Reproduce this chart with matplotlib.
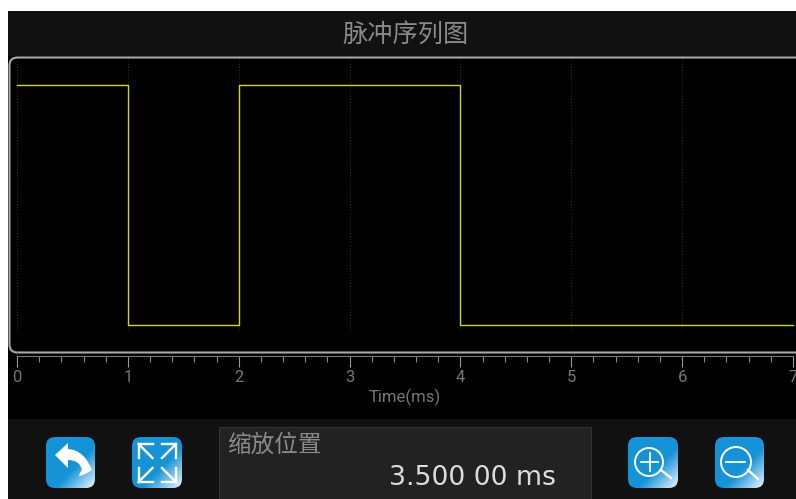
import numpy as np
import matplotlib
matplotlib.use('Agg')
import matplotlib.pyplot as plt
from matplotlib.patches import Rectangle, FancyBboxPatch, Circle, PathPatch
from matplotlib.path import Path

plt.rcParams['font.family'] = ['Noto Sans CJK SC', 'DejaVu Sans']

times = [0, 1, 2, 4, 7]
levels = [1, 0, 1, 0, 0]
major_ticks = [0, 1, 2, 3, 4, 5, 6, 7]
minor_ticks = [0.2, 0.4, 0.6, 0.8, 1.2, 1.4, 1.6, 1.8, 2.2, 2.4, 2.6, 2.8, 3.2, 3.4, 3.6, 3.8,
               4.2, 4.4, 4.6, 4.8, 5.2, 5.4, 5.6, 5.8, 6.2, 6.4, 6.6, 6.8]
title = '脉冲序列图'
xlabel = 'Time(ms)'
zoom_label = '缩放位置'
zoom_value = '3.500 00 ms'

W, H = 796, 499
fig = plt.figure(figsize=(W / 100, H / 100), dpi=100, facecolor='white')

# background layer in pixel coords
bg = fig.add_axes([0, 0, 1, 1])
bg.set_axis_off()
bg.add_patch(Rectangle((8, 11), W - 8, 45, fc='#111111', ec='none'))
bg.add_patch(Rectangle((8, 56), W - 8, 363, fc='black', ec='none'))
bg.add_patch(Rectangle((8, 419), W - 8, 80, fc='#111111', ec='none'))
bg.add_patch(Rectangle((219, 426.5), 371.5, 73, fc='#222222', ec='#333333', lw=0.8))


def icon(x0, y0, w, h):
    # blue rounded button, goes white towards the lower right corner
    yy, xx = np.mgrid[0:1:60j, 0:1:60j]
    t = np.clip(((xx + yy) / 2 - 0.6) / 0.4, 0, 1)
    blue = np.array([0.09, 0.58, 0.84])
    img = blue + (np.array([0.92, 0.96, 1.0]) - blue) * t[..., None]
    im = bg.imshow(img, extent=(x0, x0 + w, y0 + h, y0), aspect='auto', zorder=2)
    box = FancyBboxPatch((x0 + 7, y0 + 7), w - 14, h - 14, boxstyle='round,pad=7,rounding_size=9',
                         fc='none', ec='none', transform=bg.transData)
    bg.add_patch(box)
    im.set_clip_path(box)


icons = [(46, 437, 49, 51), (132, 437, 50, 51), (628, 437, 50, 51), (715, 437, 49, 51)]
for ic in icons:
    icon(*ic)

# back arrow
arrow = Path([(55, 455), (68, 443), (68, 449), (84, 450), (92, 470), (73, 482),
              (82, 470), (80, 460), (68, 460), (68, 468), (55, 455)],
             [Path.MOVETO, Path.LINETO, Path.LINETO, Path.CURVE3, Path.CURVE3, Path.CURVE3,
              Path.CURVE3, Path.CURVE3, Path.CURVE3, Path.LINETO, Path.CLOSEPOLY])
bg.add_patch(PathPatch(arrow, fc='white', ec='none', zorder=3))

# fit arrows
for cx, cy, dx, dy in [(138.5, 444, 1, 1), (176, 444, -1, 1), (138.5, 482, 1, -1), (176, 482, -1, -1)]:
    bg.plot([cx + dx * 14, cx, cx], [cy, cy, cy + dy * 14], color='white', lw=1.7, zorder=3,
            solid_joinstyle='miter')
    bg.plot([cx, cx + dx * 14], [cy, cy + dy * 14], color='white', lw=1.7, zorder=3)

# magnifiers
bg.add_patch(Circle((649, 462), 14, fc='none', ec='white', lw=1.4, zorder=3))
bg.plot([661, 671], [470, 478], color='white', lw=1.7, zorder=3)
bg.plot([641, 658], [462, 462], color='white', lw=1.3, zorder=3)
bg.plot([649.5, 649.5], [453, 471], color='white', lw=1.3, zorder=3)
bg.add_patch(Circle((736, 462), 15, fc='none', ec='white', lw=1.4, zorder=3))
bg.plot([748, 758], [470, 479], color='white', lw=1.7, zorder=3)
bg.plot([726, 745], [462, 462], color='white', lw=1.3, zorder=3)

bg.set_xlim(0, W)
bg.set_ylim(H, 0)

# chart itself
left, right, top, bottom = 17, 793, 58, 356
ax = fig.add_axes([left / W, 1 - bottom / H, (right - left) / W, (bottom - top) / H])
ax.patch.set_alpha(0)
ax.plot(times, levels, drawstyle='steps-post', color='#d8d800', lw=1.0, clip_on=False, zorder=3)
ax.set_xlim(0, 7)
ax.set_ylim(-0.1268, 1.112)
ax.set_yticks([])
ax.set_xticks(major_ticks)
ax.set_xticks(minor_ticks, minor=True)
ax.tick_params(axis='x', which='major', length=8, width=0.8, color='#999999', labelcolor='#777777',
               labelsize=12, pad=2)
ax.tick_params(axis='x', which='minor', length=4, width=0.8, color='#888888')
for name in ('top', 'left', 'right'):
    ax.spines[name].set_visible(False)
ax.spines['bottom'].set_color('#777777')
ax.spines['bottom'].set_linewidth(0.8)
ax.vlines(major_ticks, -0.017, 1.112, color='#333333', lw=0.7, linestyles=(0, (1, 2)), zorder=1)
for lab in ax.get_xticklabels():
    lab.set_family('Roboto')

# rounded frame, runs off the right edge
over = fig.add_axes([0, 0, 1, 1])
over.set_axis_off()
over.patch.set_alpha(0)
over.add_patch(FancyBboxPatch((17.5, 65.5), 790, 279, boxstyle='round,pad=8,rounding_size=8',
                              fc='none', ec='#aaaaaa', lw=1.5))
over.set_xlim(0, W)
over.set_ylim(H, 0)
over.text(405.5, 35.5, title, color='#8a8a8a', fontsize=18.2, ha='center', va='center')
over.text(404.5, 397, xlabel, color='#777777', fontsize=12, ha='center', va='center', family='Roboto')
over.text(227, 445, zoom_label, color='#8a8a8a', fontsize=17, ha='left', va='center')
over.text(556, 478, zoom_value, color='#dddddd', fontsize=19.2, ha='right', va='center', family='DejaVu Sans')

fig.savefig('out.png', dpi=100, facecolor='white')
